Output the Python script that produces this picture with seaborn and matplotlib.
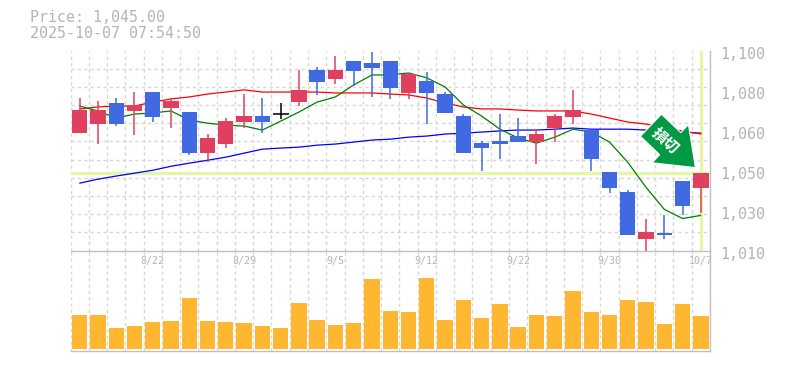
import numpy as np
import pandas as pd
import seaborn as sns
import matplotlib.pyplot as plt
from matplotlib.ticker import FixedLocator
from matplotlib.transforms import ScaledTranslation

opens = [1062.8, 1066.9, 1076.4, 1072.8, 1081.3, 1074.1, 1072.3, 1053.8, 1057.9, 1067.8,
         1070.5, 1071.4, 1076.8, 1091.3, 1087.2, 1095.3, 1094.4, 1095.3, 1080.9, 1086.3,
         1080.4, 1070.5, 1058.3, 1059.2, 1061.5, 1058.8, 1065.1, 1070.1, 1064.2, 1045.2,
         1036.2, 1015.0, 1018.1, 1041.1, 1038.0]
closes = [1073.2, 1073.2, 1066.9, 1075.5, 1070.1, 1077.3, 1053.8, 1060.6, 1068.2, 1070.5,
          1067.8, 1071.4, 1082.3, 1085.9, 1091.3, 1090.8, 1092.2, 1083.2, 1089.5, 1080.9,
          1071.9, 1053.8, 1056.1, 1057.9, 1058.8, 1062.4, 1070.5, 1073.2, 1051.1, 1038.0,
          1016.8, 1018.1, 1016.8, 1029.9, 1045.0]
highs = [1078.6, 1077.3, 1078.6, 1081.3, 1081.3, 1078.6, 1072.3, 1062.4, 1069.6, 1080.4,
         1078.6, 1076.4, 1091.3, 1092.6, 1097.6, 1095.3, 1099.4, 1095.3, 1089.9, 1090.4,
         1081.3, 1071.4, 1059.2, 1071.4, 1069.6, 1064.6, 1071.4, 1082.3, 1064.2, 1045.2,
         1037.1, 1024.4, 1026.2, 1041.1, 1045.0]
lows = [1062.8, 1057.9, 1066.0, 1061.9, 1067.8, 1065.1, 1052.9, 1049.7, 1056.1, 1065.1,
        1062.8, 1069.2, 1075.0, 1080.0, 1085.0, 1084.1, 1079.1, 1078.2, 1078.2, 1066.9,
        1071.9, 1053.8, 1045.7, 1051.1, 1058.8, 1048.8, 1058.8, 1066.9, 1045.7, 1035.7,
        1016.8, 1009.6, 1015.0, 1025.8, 1026.7]
ma_short = [1075.0, 1072.8, 1069.6, 1071.4, 1071.9, 1072.8, 1068.7, 1067.3, 1066.4, 1066.0,
            1064.2, 1068.2, 1072.3, 1076.8, 1079.1, 1084.5, 1089.0, 1089.0, 1089.9, 1087.7,
            1083.6, 1075.5, 1070.5, 1064.6, 1060.6, 1058.3, 1061.0, 1064.6, 1063.3, 1058.8,
            1049.7, 1038.4, 1028.5, 1024.4, 1025.8]
ma_mid = [1073.7, 1074.6, 1075.0, 1075.0, 1076.8, 1078.2, 1079.1, 1080.4, 1081.3, 1082.3,
          1081.3, 1081.3, 1081.3, 1081.3, 1080.9, 1080.9, 1080.9, 1080.4, 1080.0, 1078.6,
          1076.4, 1074.6, 1073.7, 1073.7, 1073.2, 1072.8, 1072.8, 1072.8, 1071.4, 1069.6,
          1067.8, 1066.9, 1065.1, 1063.8, 1062.4]
ma_long = [1040.3, 1042.1, 1043.5, 1044.8, 1046.1, 1047.9, 1049.3, 1050.6, 1052.0, 1053.8,
           1055.6, 1056.1, 1056.5, 1057.4, 1057.9, 1058.8, 1059.7, 1060.1, 1061.0, 1061.5,
           1062.4, 1062.8, 1063.3, 1063.8, 1064.2, 1064.2, 1064.6, 1065.1, 1064.6, 1064.6,
           1064.6, 1064.2, 1063.8, 1063.3, 1062.8]
volumes = [34, 34, 21, 23, 27, 28, 51, 28, 27, 26, 23, 21, 46, 29, 24, 26, 70, 38,
           37, 71, 29, 49, 31, 45, 22, 34, 33, 58, 37, 34, 49, 47, 25, 45, 33]
date_ticks = [4, 9, 14, 19, 24, 29, 34]
date_labels = ["8/22", "8/29", "9/5", "9/12", "9/22", "9/30", "10/7"]
price_ticks = [1100, 1082, 1064, 1046, 1028, 1010]
price_labels = ["1,100", "1,080", "1,060", "1,050", "1,030", "1,010"]
last_price = 1045

UP = "#e0405f"
DOWN = "#4169e1"
GREY = "#b4b4b4"
SPINE = "#c0c0c0"
GRID = "#d6d6d6"
HILITE = "#e6f5a8"
MONO = "DejaVu Sans Mono"

sns.set_theme(style="white")
plt.rcParams["font.family"] = [MONO, "Noto Sans CJK JP"]

df = pd.DataFrame({"i": np.arange(len(opens)), "open": opens, "close": closes,
                   "high": highs, "low": lows, "short": ma_short, "mid": ma_mid,
                   "long": ma_long, "vol": volumes})
df["top"] = df[["open", "close"]].max(axis=1)
df["bot"] = df[["open", "close"]].min(axis=1)
df["col"] = np.where(df["close"] > df["open"], UP, DOWN)
df.loc[df["close"] == df["open"], "col"] = "black"

W, H = 785, 370
fig = plt.figure(figsize=(W / 100, H / 100), dpi=100)
ax = fig.add_axes([70.5 / W, 1 - 250.5 / H, 639.5 / W, 200 / H])
axv = fig.add_axes([70.5 / W, 1 - 350.5 / H, 639.5 / W, 100 / H])
axv.patch.set_alpha(0)


def style(a):
    a.set_xlim(-0.5, 34.5)
    a.xaxis.set_minor_locator(FixedLocator(np.arange(-0.5, 35)))
    a.grid(True, which="minor", axis="x", color=GRID, lw=1.0, ls=(0, (2.3, 2.3)))
    a.set_axisbelow(True)
    for s in ["left", "top"]:
        a.spines[s].set_visible(False)
    for s in ["right", "bottom"]:
        a.spines[s].set_color(SPINE)
        a.spines[s].set_linewidth(1.0)
    a.tick_params(which="both", length=0)
    a.set_xlabel("")
    a.set_ylabel("")


# price panel
ax.axhline(last_price, color=HILITE, lw=2.3, zorder=1.5)
ax.axvline(34, ymin=0.01, ymax=0.995, color=HILITE, lw=2.3, zorder=1.5)
for col, c in [("long", "#0000ff"), ("mid", "#ff0000"), ("short", "#007f00")]:
    sns.lineplot(data=df, x="i", y=col, color=c, lw=0.9, ax=ax, zorder=2, errorbar=None)

ax.vlines(df["i"], df["low"], df["high"], colors=df["col"], lw=1.1, zorder=3, snap=True)
ax.bar(df["i"], df["top"] - df["bot"], bottom=df["bot"], width=0.84, color=df["col"],
       linewidth=0, zorder=3)
doji = df[df["col"] == "black"]
ax.hlines(doji["close"], doji["i"] - 0.44, doji["i"] + 0.44, colors="black", lw=1.1, zorder=3, snap=True)

ax.set_ylim(1010, 1100)
style(ax)
ax.yaxis.set_minor_locator(FixedLocator(np.linspace(1010, 1100, 12)))
ax.grid(True, which="minor", axis="y", color=GRID, lw=1.0, ls=(0, (2.3, 2.3)))
ax.set_xticks([])
ax.yaxis.tick_right()
ax.set_yticks(price_ticks, price_labels)
ax.tick_params(axis="y", which="major", pad=7, labelsize=10.8, labelcolor=GREY)
shift = ScaledTranslation(0, -2.5 / 100, fig.dpi_scale_trans)
for t in ax.yaxis.get_major_ticks():
    t.label2.set_transform(t.label2.get_transform() + shift)
    t.label2.set_family(MONO)

# sell marker
ax.annotate("", xy=(33.7, 1047.3), xytext=(-32, 30.5), textcoords="offset points",
            arrowprops=dict(arrowstyle="simple,head_length=25,head_width=38,tail_width=22",
                            mutation_scale=1, shrinkA=0, shrinkB=0, fc="#009944",
                            ec="white", lw=0.8), zorder=4)
ax.annotate("損切", xy=(33.7, 1047.3), xytext=(-21.5, 19.5), textcoords="offset points",
            rotation=-42, rotation_mode="anchor", ha="center", va="center", color="white",
            fontsize=11, fontweight="bold", family=["Noto Sans CJK JP"], zorder=5)

# volume panel
sns.barplot(x=df["i"], y=df["vol"], color="#ffb732", saturation=1, width=0.84, linewidth=0,
            ax=axv, zorder=3)
axv.set_ylim(-2, 98)
style(axv)
axv.set_yticks([])
axv.set_xticks(date_ticks, date_labels)
axv.xaxis.tick_top()
axv.tick_params(axis="x", which="major", pad=-11.5, labelsize=7.2, labelcolor=GREY)

fig.text(30 / W, 1 - 18 / H, f"Price: {last_price:,.2f}", color=GREY, fontsize=10.8,
         family=MONO, va="center")
fig.text(30 / W, 1 - 33 / H, "2025-10-07 07:54:50", color=GREY, fontsize=10.8,
         family=MONO, va="center")

fig.savefig("out.png", dpi=100, facecolor="white")
